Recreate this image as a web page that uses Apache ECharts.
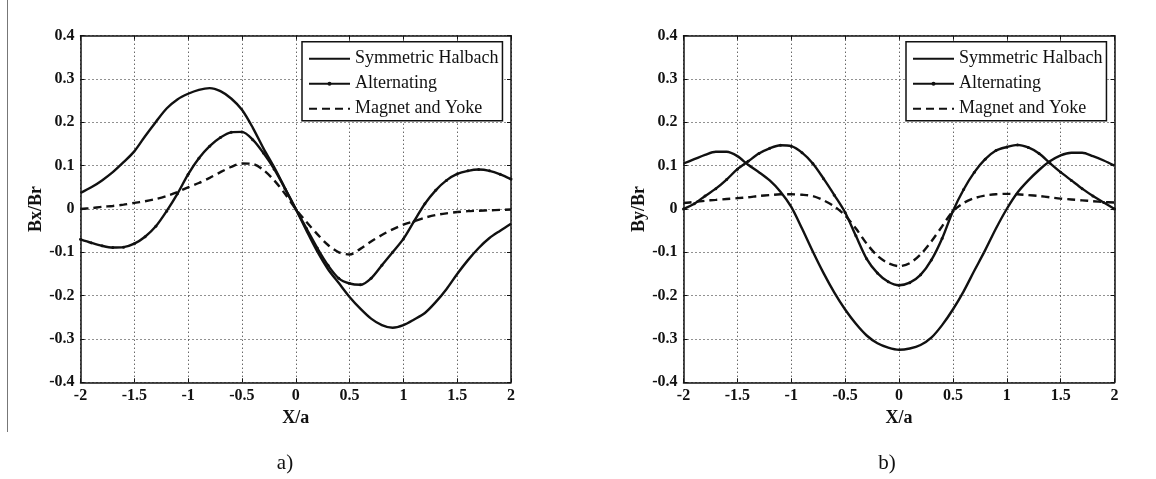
<!DOCTYPE html>
<html>
<head>
<meta charset="utf-8">
<script src="https://cdn.jsdelivr.net/npm/echarts@6/dist/echarts.min.js"></script>
<style>
html,body{margin:0;padding:0;background:#fff;}
#chart{width:1156px;height:479px;}
</style>
</head>
<body>
<div id="chart"></div>
<script>
// x positions (X/a)
const xs = [-2.0,-1.9,-1.8,-1.7,-1.6,-1.5,-1.4,-1.3,-1.2,-1.1,-1.0,-0.9,-0.8,-0.7,-0.6,-0.5,-0.4,-0.3,-0.2,-0.1,0.0,
            0.1,0.2,0.3,0.4,0.5,0.6,0.7,0.8,0.9,1.0,1.1,1.2,1.3,1.4,1.5,1.6,1.7,1.8,1.9,2.0];

const seriesNames = ['Symmetric Halbach', 'Alternating', 'Magnet and Yoke'];

// Panel a) Bx/Br
const bxHalbach = [0.037,0.050,0.066,0.085,0.108,0.133,0.168,0.201,0.232,0.253,0.266,0.275,0.279,0.272,0.255,0.229,0.188,0.140,0.096,0.048,0.000,
                   -0.050,-0.098,-0.139,-0.171,-0.203,-0.230,-0.253,-0.268,-0.274,-0.268,-0.255,-0.240,-0.215,-0.185,-0.150,-0.118,-0.090,-0.067,-0.050,-0.034];
const bxAlternating = [-0.070,-0.078,-0.085,-0.089,-0.088,-0.080,-0.064,-0.040,-0.005,0.035,0.080,0.117,0.145,0.165,0.177,0.178,0.160,0.129,0.092,0.047,0.000,
                       -0.045,-0.090,-0.130,-0.160,-0.172,-0.175,-0.160,-0.130,-0.100,-0.069,-0.028,0.012,0.043,0.066,0.081,0.088,0.091,0.088,0.080,0.069];
const bxMagnet = [0.000,0.002,0.005,0.007,0.010,0.014,0.018,0.023,0.030,0.039,0.050,0.060,0.072,0.085,0.097,0.105,0.104,0.090,0.066,0.035,0.000,
                  -0.030,-0.058,-0.083,-0.100,-0.105,-0.092,-0.075,-0.060,-0.047,-0.036,-0.028,-0.020,-0.014,-0.010,-0.007,-0.005,-0.004,-0.003,-0.002,-0.001];

// Panel b) By/Br
const byHalbach = [0.105,0.115,0.125,0.132,0.132,0.122,0.102,0.085,0.066,0.040,0.005,-0.045,-0.098,-0.148,-0.193,-0.232,-0.265,-0.292,-0.310,-0.320,-0.325,
                   -0.322,-0.314,-0.297,-0.268,-0.232,-0.190,-0.142,-0.095,-0.045,0.000,0.038,0.066,0.090,0.110,0.124,0.130,0.130,0.122,0.112,0.100];
const byAlternating = [0.000,0.012,0.030,0.047,0.068,0.092,0.110,0.128,0.140,0.147,0.145,0.130,0.105,0.070,0.032,-0.008,-0.062,-0.115,-0.148,-0.168,-0.176,
                       -0.170,-0.152,-0.118,-0.068,-0.005,0.045,0.085,0.115,0.135,0.143,0.148,0.142,0.128,0.106,0.085,0.066,0.047,0.030,0.015,0.000];
const byMagnet = [0.014,0.016,0.019,0.021,0.023,0.025,0.027,0.030,0.032,0.034,0.034,0.033,0.030,0.020,0.006,-0.015,-0.045,-0.080,-0.108,-0.125,-0.132,
                  -0.125,-0.105,-0.075,-0.040,-0.005,0.014,0.025,0.031,0.034,0.035,0.034,0.032,0.030,0.027,0.024,0.022,0.020,0.018,0.016,0.015];

const xAxisName = 'X/a';
const yAxisNames = ['Bx/Br', 'By/Br'];
const panelLabels = ['a)', 'b)'];

const FONT = '"Liberation Serif", "Times New Roman", serif';
const INK = '#111';

function pairs(vals) { return xs.map((x, i) => [x, vals[i]]); }

const grids = [
  { left: 80.5, top: 35.7, width: 430.5, height: 346.6 },
  { left: 683.5, top: 35.7, width: 431, height: 346.6 }
];

function mainX(gi) {
  return {
    type: 'value', gridIndex: gi, min: -2, max: 2, interval: 0.5,
    name: xAxisName, nameLocation: 'middle', nameGap: 25,
    nameTextStyle: { fontFamily: FONT, fontSize: 18, fontWeight: 'bold', color: INK },
    axisLine: { onZero: false, lineStyle: { color: INK, width: 1.5 } },
    axisTick: { inside: true, length: 4, lineStyle: { color: INK } },
    axisLabel: { fontFamily: FONT, fontSize: 16, fontWeight: 'bold', color: INK, margin: 6, showMinLabel: true, showMaxLabel: true },
    splitLine: { show: true, lineStyle: { color: '#222', width: 1, type: [1, 3] } }
  };
}
function topX(gi) {
  return {
    type: 'value', gridIndex: gi, min: -2, max: 2, interval: 0.5, position: 'top',
    axisLine: { onZero: false, lineStyle: { color: INK, width: 1.5 } },
    axisTick: { inside: true, length: 4, lineStyle: { color: INK } },
    axisLabel: { show: false }, splitLine: { show: false }
  };
}
function mainY(gi, name) {
  return {
    type: 'value', gridIndex: gi, min: -0.4, max: 0.4, interval: 0.1,
    name: name, nameLocation: 'middle', nameGap: 35,
    nameTextStyle: { fontFamily: FONT, fontSize: 18, fontWeight: 'bold', color: INK },
    axisLine: { onZero: false, lineStyle: { color: INK, width: 1.5 } },
    axisTick: { inside: true, length: 4, lineStyle: { color: INK } },
    axisLabel: { fontFamily: FONT, fontSize: 16, fontWeight: 'bold', color: INK, margin: 6,
                 formatter: v => (Math.abs(v) < 1e-9 ? '0' : (Math.round(v * 10) / 10).toString()) },
    splitLine: { show: true, lineStyle: { color: '#222', width: 1, type: [1, 3] } }
  };
}
function rightY(gi) {
  return {
    type: 'value', gridIndex: gi, min: -0.4, max: 0.4, interval: 0.1, position: 'right',
    axisLine: { onZero: false, lineStyle: { color: INK, width: 1.5 } },
    axisTick: { inside: true, length: 4, lineStyle: { color: INK } },
    axisLabel: { show: false }, splitLine: { show: false }
  };
}

function makeSeries(xi, yi, h, a, m) {
  return [
    { name: seriesNames[0], type: 'line', xAxisIndex: xi, yAxisIndex: yi, data: pairs(h),
      smooth: 0.3, symbol: 'none', lineStyle: { color: INK, width: 2.4 }, itemStyle: { color: INK }, z: 3 },
    { name: seriesNames[1], type: 'line', xAxisIndex: xi, yAxisIndex: yi, data: pairs(a),
      smooth: 0.3, symbol: 'circle', symbolSize: 3, showSymbol: true,
      lineStyle: { color: INK, width: 2.4 }, itemStyle: { color: INK }, z: 3 },
    { name: seriesNames[2], type: 'line', xAxisIndex: xi, yAxisIndex: yi, data: pairs(m),
      smooth: 0.3, symbol: 'none', lineStyle: { color: INK, width: 2.4, type: [8, 5] }, itemStyle: { color: INK }, z: 3 }
  ];
}

function legendAt(left) {
  return {
    left: left, top: 41.7, orient: 'vertical',
    padding: [8, 4, 3, 6], itemWidth: 41, itemHeight: 5, itemGap: 7,
    borderColor: INK, borderWidth: 1.5, backgroundColor: '#fff',
    selectedMode: false,
    textStyle: { fontFamily: FONT, fontSize: 18, color: INK },
    data: [
      { name: seriesNames[0], itemStyle: { opacity: 0 } },
      { name: seriesNames[1] },
      { name: seriesNames[2], itemStyle: { opacity: 0 } }
    ]
  };
}

const option = {
  backgroundColor: '#fff',
  animation: false,
  grid: grids,
  xAxis: [mainX(0), topX(0), mainX(1), topX(1)],
  yAxis: [mainY(0, yAxisNames[0]), rightY(0), mainY(1, yAxisNames[1]), rightY(1)],
  legend: [legendAt(302), legendAt(906)],
  series: [].concat(
    makeSeries(0, 0, bxHalbach, bxAlternating, bxMagnet),
    makeSeries(2, 2, byHalbach, byAlternating, byMagnet)
  ),
  graphic: [
    { type: 'line', shape: { x1: 7.5, y1: 0, x2: 7.5, y2: 432 }, style: { stroke: '#777', lineWidth: 1 } },
    { type: 'text', x: 285, y: 463, style: { text: panelLabels[0], font: '21px ' + FONT, fill: INK, textAlign: 'center', textVerticalAlign: 'middle' } },
    { type: 'text', x: 887, y: 463, style: { text: panelLabels[1], font: '21px ' + FONT, fill: INK, textAlign: 'center', textVerticalAlign: 'middle' } }
  ]
};

const chart = echarts.init(document.getElementById('chart'), null, { renderer: 'canvas' });
chart.setOption(option);
</script>
</body>
</html>
